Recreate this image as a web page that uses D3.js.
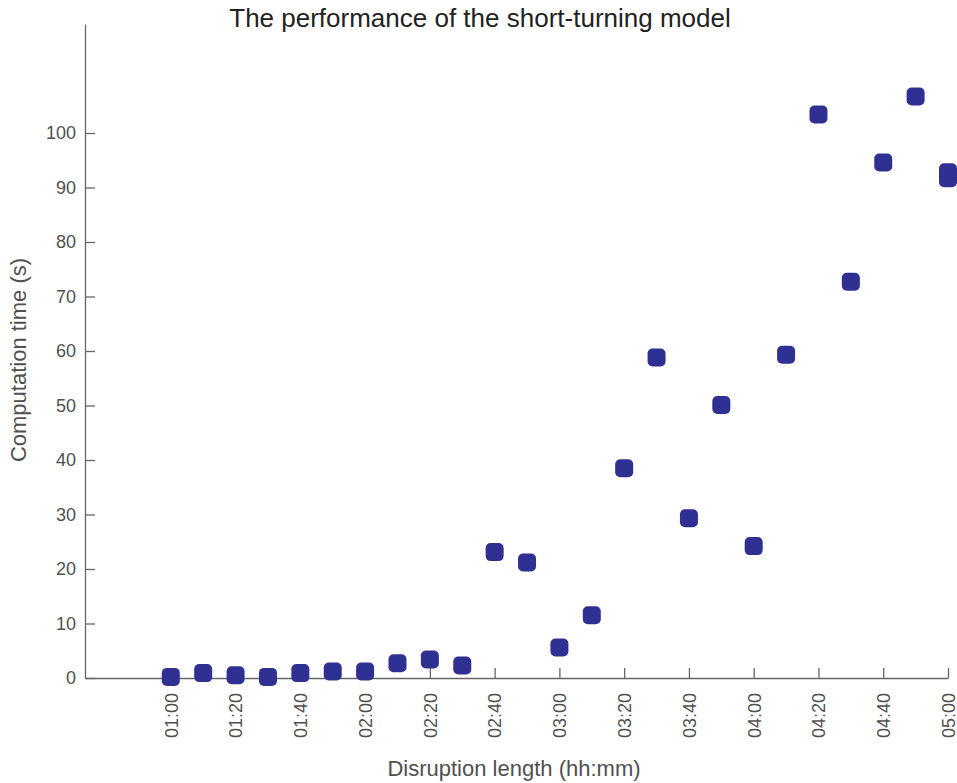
<!DOCTYPE html>
<html>
<head>
<meta charset="utf-8">
<script src="https://cdn.jsdelivr.net/npm/d3@7"></script>
<style>
  body { margin: 0; background: #fff; }
  svg { display: block; font-family: "Liberation Sans", Arial, sans-serif; }
</style>
</head>
<body>
<svg id="chart" width="957" height="783"></svg>
<script>
// DATA
// disruption length in minutes (01:00 .. 05:00, every 10 min)
const minutes = [60, 70, 80, 90, 100, 110, 120, 130, 140, 150, 160, 170, 180,
  190, 200, 210, 220, 230, 240, 250, 260, 270, 280, 290, 300, 300];
const seconds = [0.2, 0.9, 0.5, 0.2, 0.9, 1.2, 1.2, 2.7, 3.4, 2.3, 23.1, 21.2, 5.6,
  11.5, 38.5, 58.8, 29.3, 50.1, 24.2, 59.3, 103.4, 72.7, 94.6, 106.7, 92.8, 91.7];
const xTicks = [60, 80, 100, 120, 140, 160, 180, 200, 220, 240, 260, 280, 300];
const yTicks = [0, 10, 20, 30, 40, 50, 60, 70, 80, 90, 100];

const points = minutes.map((m, i) => ({ m, s: seconds[i] }));

// VARIABLES
const svg = d3.select("#chart");
const axisColor = "#666";
const textColor = "#505050";
const markerSize = 18;

const x = d3.scaleLinear().domain([33.5, 300]).range([85, 948]);
const y = d3.scaleLinear().domain([0, 120]).range([678, 24]);

const fmt = m => `${String(Math.floor(m / 60)).padStart(2, "0")}:${String(m % 60).padStart(2, "0")}`;

// axes
const xAxis = svg.append("g").attr("transform", `translate(0,${y(0)})`)
  .call(d3.axisBottom(x).tickValues(xTicks).tickSize(-10).tickSizeOuter(0).tickFormat(fmt));
xAxis.select(".domain").attr("stroke", axisColor).attr("stroke-width", 1.3);
xAxis.selectAll(".tick line").attr("stroke", axisColor).attr("stroke-width", 1.3);
xAxis.selectAll(".tick text")
  .attr("fill", textColor)
  .attr("font-size", 18)
  .attr("text-anchor", "end")
  .attr("transform", "rotate(-90)")
  .attr("x", -15)
  .attr("y", 0)
  .attr("dy", "0.35em");

const yAxis = svg.append("g").attr("transform", `translate(${x(33.5)},0)`)
  .call(d3.axisLeft(y).tickValues(yTicks).tickSize(-10).tickSizeOuter(0));
yAxis.select(".domain").attr("stroke", axisColor).attr("stroke-width", 1.3);
yAxis.selectAll(".tick line").attr("stroke", axisColor).attr("stroke-width", 1.3);
yAxis.selectAll(".tick text")
  .attr("fill", textColor)
  .attr("font-size", 18)
  .attr("x", -9);

// markers
svg.append("g")
  .selectAll("rect")
  .data(points)
  .join("rect")
  .attr("x", d => x(d.m) - markerSize / 2)
  .attr("y", d => y(d.s) - markerSize / 2)
  .attr("width", markerSize)
  .attr("height", markerSize)
  .attr("rx", 5)
  .attr("fill", "#2e3192");

// titles
svg.append("text")
  .attr("x", 480).attr("y", 27)
  .attr("text-anchor", "middle")
  .attr("font-size", 26)
  .attr("fill", "#222")
  .text("The performance of the short-turning model");

svg.append("text")
  .attr("x", 514).attr("y", 776)
  .attr("text-anchor", "middle")
  .attr("font-size", 22)
  .attr("fill", textColor)
  .text("Disruption length (hh:mm)");

svg.append("text")
  .attr("transform", "translate(26,360) rotate(-90)")
  .attr("text-anchor", "middle")
  .attr("font-size", 22)
  .attr("fill", textColor)
  .text("Computation time (s)");
</script>
</body>
</html>
